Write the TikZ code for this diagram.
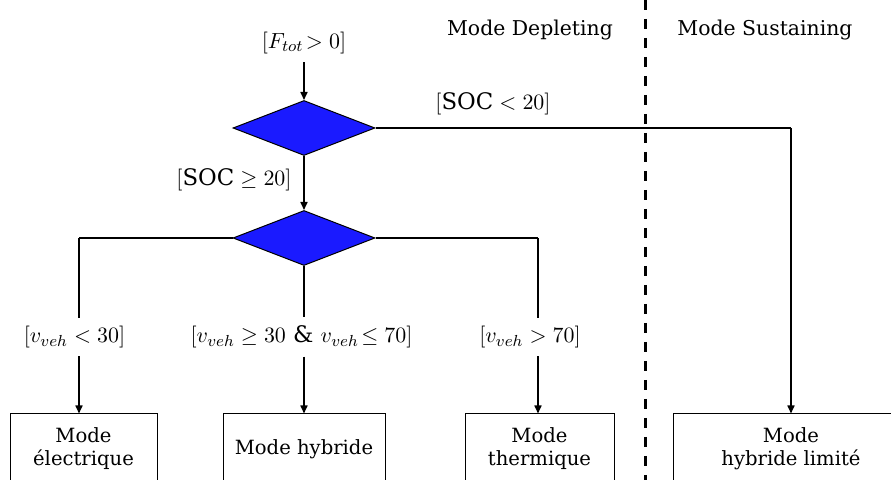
\documentclass[tikz,border=0pt]{standalone}
\usepackage{fontspec}
\setmainfont{DejaVu Serif}
\usetikzlibrary{positioning,arrows.meta,shapes.geometric}
\definecolor{decblue}{RGB}{26,26,255}

\begin{document}
\begin{tikzpicture}[x=0.5pt,y=-0.5pt,font=\fontsize{9.8}{11.5}\selectfont,
  dec/.style={diamond,draw,fill=decblue,line width=0.5pt,minimum width=71pt,minimum height=27.5pt,inner sep=0pt},
  mbox/.style={rectangle,draw,line width=0.5pt,minimum height=35pt,align=center},
  cond/.style={font=\fontsize{11.4}{13}\selectfont,inner xsep=0pt,inner ysep=4pt},
  ttl/.style={font=\fontsize{10.2}{12}\selectfont},
  ar/.style={-{Triangle[length=4pt,width=3.5pt]},line width=0.8pt},
  ln/.style={line width=0.8pt},
  hl/.style={line width=1.3pt}]
  \useasboundingbox (0,0) rectangle (891,480);
  \clip (0,0) rectangle (891,480);
  % titles and separation
  \node[ttl](dep) at (530,30){Mode Depleting};
  \node[ttl](sus) at (765,30){Mode Sustaining};
  \coordinate (sepT) at (645,0);\coordinate (sepB) at (645,480);
  \draw[line width=1.5pt,dash pattern=on 5pt off 4.5pt](sepT)--(sepB);
  % decisions
  \node[cond](ftot) at (304,43){$[F_{tot}\!>0]$};
  \node[dec](d1) at (304,128){};
  \node[dec](d2) at (304,238){};
  \node[cond](soclow) at (493,104){$[\mathrm{SOC}<20]$};
  \node[cond](socok) at (234,180){$[\mathrm{SOC}\geq 20]$};
  \draw[ar](ftot)--(d1.north);
  \draw[ar](d1.south)--(d2.north);
  % modes
  \node[mbox,minimum width=73.5pt](elec) at (83.5,449){Mode\\électrique};
  \node[mbox,minimum width=81pt](hyb) at (304,449){Mode hybride};
  \node[mbox,minimum width=74.5pt](therm) at (539.5,449){Mode\\thermique};
  \node[mbox,minimum width=118pt](lim) at (791,449){Mode\\hybride limité};
  \node[cond](v1) at (74.5,337){$[v_{veh}<30]$};
  \node[cond](v2) at (301.5,337){$[v_{veh}\geq 30\ \&\ v_{veh}\!\leq 70]$};
  \node[cond](v3) at (530,337){$[v_{veh}>70]$};
  \coordinate (c1) at (79,238);\coordinate (c3) at (538,238);\coordinate (c4) at (791,128);
  \draw[hl](d1.east)--(c4);\draw[ar](c4)--(lim.north);
  \draw[hl](d2.west)--(c1);\draw[hl](d2.east)--(c3);
  \draw[ln](c1)--(c1|-v1.north);\draw[ar](c1|-v1.south)--(c1|-elec.north);
  \draw[ln](d2.south)--(d2|-v2.north);\draw[ar](d2|-v2.south)--(hyb.north);
  \draw[ln](c3)--(c3|-v3.north);\draw[ar](c3|-v3.south)--(c3|-therm.north);
\end{tikzpicture}
\end{document}
